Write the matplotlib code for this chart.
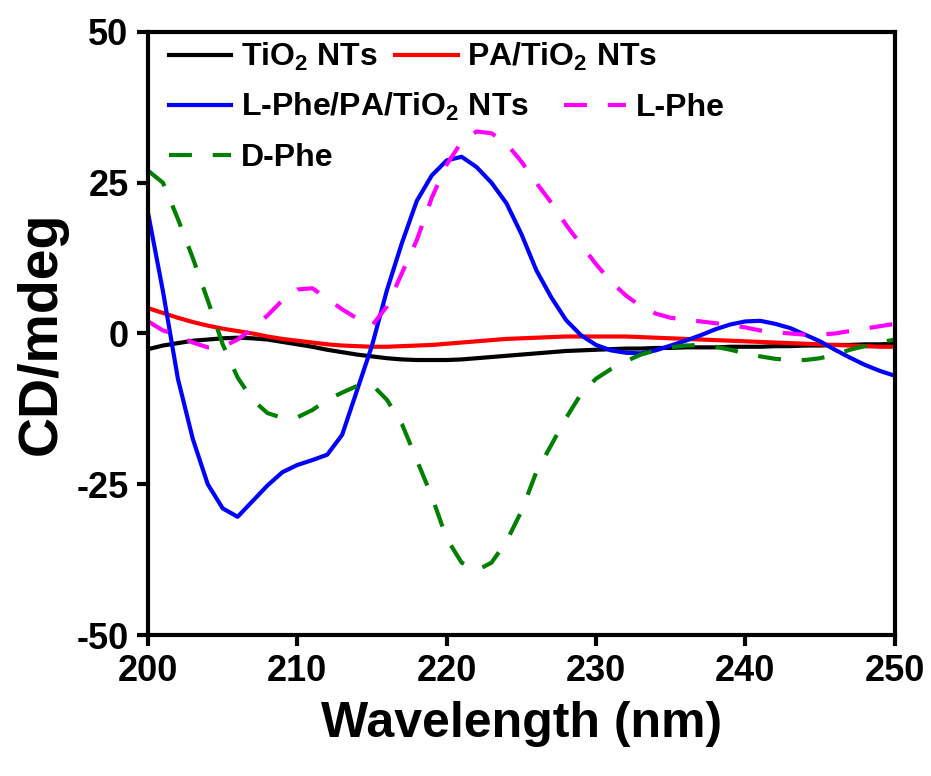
import numpy as np
import matplotlib
matplotlib.use('Agg')
import matplotlib.pyplot as plt
from matplotlib.legend import Legend

plt.rcParams['font.family'] = ['Liberation Sans', 'DejaVu Sans']
plt.rcParams['font.weight'] = 'bold'
plt.rcParams['axes.unicode_minus'] = False
plt.rcParams['mathtext.fontset'] = 'custom'
plt.rcParams['mathtext.rm'] = 'Liberation Sans:bold'
plt.rcParams['mathtext.bf'] = 'Liberation Sans:bold'
plt.rcParams['mathtext.default'] = 'bf'

# wavelength (nm), 1 nm steps
wavelength = np.arange(200, 251)

tio2 = [-2.6, -2.0, -1.6, -1.2, -1.0, -0.8, -0.7, -0.8, -1.0, -1.4,
        -1.8, -2.2, -2.7, -3.1, -3.5, -3.8, -4.1, -4.3, -4.4, -4.4,
        -4.4, -4.3, -4.1, -3.9, -3.7, -3.5, -3.3, -3.1, -2.9, -2.8,
        -2.7, -2.6, -2.5, -2.5, -2.4, -2.4, -2.3, -2.3, -2.3, -2.2,
        -2.2, -2.2, -2.1, -2.1, -2.0, -2.0, -1.9, -1.9, -1.8, -1.8,
        -1.7]
pa_tio2 = [4.2, 3.4, 2.6, 1.9, 1.3, 0.8, 0.4, 0.0, -0.5, -0.9,
           -1.2, -1.5, -1.8, -2.0, -2.1, -2.2, -2.2, -2.1, -2.0, -1.9,
           -1.7, -1.5, -1.3, -1.1, -0.9, -0.8, -0.7, -0.6, -0.5, -0.5,
           -0.5, -0.5, -0.5, -0.6, -0.7, -0.8, -0.9, -1.0, -1.1, -1.2,
           -1.3, -1.4, -1.5, -1.6, -1.7, -1.8, -1.9, -2.0, -2.1, -2.2,
           -2.2]
lphe_pa_tio2 = [20.0, 7.0, -7.5, -17.5, -25.0, -29.0, -30.4, -27.8, -25.2, -23.0,
                -21.8, -21.0, -20.1, -16.8, -9.4, -2.0, 7.2, 15.0, 22.0, 26.2,
                28.7, 29.3, 27.6, 25.0, 21.6, 16.5, 10.5, 6.0, 2.2, -0.3,
                -1.9, -2.8, -3.2, -3.3, -2.8, -2.0, -1.2, -0.3, 0.7, 1.5,
                2.0, 2.1, 1.6, 0.9, -0.2, -1.3, -2.7, -4.0, -5.2, -6.2,
                -7.0]
lphe = [2.0, 0.5, -0.3, -1.5, -2.3, -2.2, -1.0, 0.8, 3.0, 5.5,
        7.3, 7.5, 5.8, 4.0, 2.5, 1.3, 4.5, 10.0, 15.5, 22.5,
        28.0, 31.8, 33.5, 33.2, 31.5, 28.5, 25.0, 21.7, 18.0, 14.7,
        11.5, 8.6, 6.3, 4.5, 3.3, 2.6, 2.3, 2.0, 1.7, 1.4,
        1.0, 0.5, 0.2, 0.0, -0.2, -0.2, 0.0, 0.4, 0.8, 1.2,
        1.6]
dphe = [27.0, 25.0, 19.0, 12.5, 5.5, -1.8, -7.3, -11.0, -13.2, -14.0,
        -13.9, -12.7, -11.0, -9.8, -8.7, -8.5, -11.0, -15.0, -21.0, -27.0,
        -34.0, -38.0, -39.3, -38.0, -34.5, -29.5, -23.0, -18.5, -14.0, -10.0,
        -7.5, -5.9, -4.6, -3.5, -2.8, -2.3, -2.0, -1.9, -2.2, -2.7,
        -3.3, -3.8, -4.2, -4.4, -4.4, -4.1, -3.5, -2.7, -2.1, -1.5,
        -1.0]

fig = plt.figure(figsize=(9.31, 7.76), dpi=100)
ax = fig.add_axes([0.159, 0.1817, 0.802, 0.7771])

lw = 3.0
l1, = ax.plot(wavelength, tio2, color='black', lw=lw, label=r'TiO$_2$ NTs')
l2, = ax.plot(wavelength, pa_tio2, color='red', lw=lw, label=r'PA/TiO$_2$ NTs')
l3, = ax.plot(wavelength, lphe_pa_tio2, color='blue', lw=lw, label=r'L-Phe/PA/TiO$_2$ NTs')
l4, = ax.plot(wavelength, lphe, color='magenta', lw=lw, ls=(0, (5.5, 5)), label='L-Phe')
l5, = ax.plot(wavelength, dphe, color='green', lw=lw, ls=(0, (5.5, 5)), label='D-Phe')

ax.set_xlim(200, 250)
ax.set_ylim(-50, 50)
ax.set_xticks([200, 210, 220, 230, 240, 250])
ax.set_yticks([-50, -25, 0, 25, 50])
ax.tick_params(direction='out', length=8, width=3, labelsize=26, pad=6)
for s in ax.spines.values():
    s.set_linewidth(3)

ax.set_xlabel('Wavelength (nm)', fontsize=36, fontweight='bold', labelpad=8)
ax.set_ylabel('CD/mdeg', fontsize=40, fontweight='bold', labelpad=6)

# legend rows, placed one under another
rows = [([l1, l2], 0.9585, 0.55), ([l3, l4], 0.8756, 1.1), ([l5], 0.791, 0.8)]
for handles, y, cs in rows:
    leg = Legend(ax, handles, [h.get_label() for h in handles], loc='center left',
                 bbox_to_anchor=(0.028, y), ncol=2, frameon=False, borderpad=0,
                 borderaxespad=0, handlelength=1.95,
                 handletextpad=0.3, columnspacing=cs,
                 prop={'weight': 'bold', 'size': 23})
    ax.add_artist(leg)

plt.savefig('out.png', dpi=100)
